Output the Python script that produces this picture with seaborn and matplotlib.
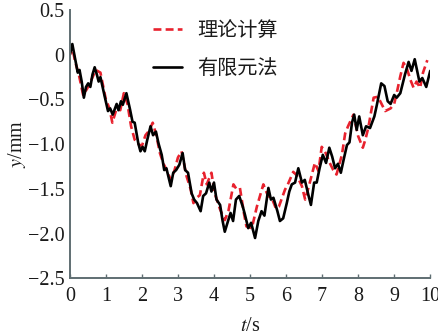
import matplotlib
matplotlib.use("Agg")
import matplotlib.pyplot as plt
import seaborn as sns
import pandas as pd

# Theoretical displacement curve (t in s, y in mm)
theory_t = [0.00, 0.07, 0.15, 0.25, 0.37, 0.45, 0.52, 0.60, 0.72, 0.85, 0.90, 1.00,
            1.10, 1.18, 1.30, 1.40, 1.50, 1.60, 1.70, 1.80, 1.90, 2.00, 2.10, 2.20,
            2.30, 2.40, 2.50, 2.60, 2.70, 2.80, 2.90, 3.00, 3.10, 3.24, 3.35, 3.43,
            3.52, 3.61, 3.72, 3.80, 3.93, 4.02, 4.17, 4.30, 4.40, 4.54, 4.62, 4.72,
            4.83, 4.90, 5.05, 5.19, 5.37, 5.50, 5.60, 5.72, 5.80, 5.97, 6.05, 6.20,
            6.30, 6.44, 6.53, 6.62, 6.80, 6.90, 6.99, 7.10, 7.20, 7.31, 7.40, 7.55,
            7.64, 7.72, 7.87, 8.00, 8.13, 8.20, 8.28, 8.43, 8.55, 8.65, 8.75, 8.90,
            9.00, 9.07, 9.17, 9.26, 9.35, 9.45, 9.54, 9.62, 9.72, 9.80, 9.92]
theory_y = [0.00, 0.08, -0.08, -0.22, -0.45, -0.40, -0.35, -0.28, -0.17, -0.20, -0.30, -0.50,
            -0.60, -0.76, -0.60, -0.62, -0.43, -0.55, -0.80, -0.95, -1.00, -1.02, -0.90, -0.85,
            -0.76, -0.90, -1.10, -1.22, -1.30, -1.40, -1.30, -1.15, -1.08, -1.36, -1.50, -1.66,
            -1.60, -1.57, -1.32, -1.45, -1.32, -1.55, -1.73, -1.85, -1.75, -1.45, -1.50, -1.49,
            -1.77, -1.92, -1.94, -1.70, -1.45, -1.58, -1.60, -1.72, -1.70, -1.51, -1.45, -1.31,
            -1.35, -1.47, -1.62, -1.49, -1.21, -1.30, -1.03, -1.10, -1.20, -1.29, -1.34, -1.12,
            -0.88, -0.80, -0.67, -0.91, -1.04, -0.95, -0.82, -0.48, -0.47, -0.55, -0.63, -0.60,
            -0.55, -0.43, -0.24, -0.09, -0.15, -0.28, -0.37, -0.30, -0.37, -0.20, -0.06]

# Finite element result
fem_t = [0.00, 0.07, 0.15, 0.22, 0.27, 0.33, 0.39, 0.45, 0.51, 0.57, 0.63, 0.69,
         0.75, 0.80, 0.85, 0.97, 1.06, 1.12, 1.19, 1.30, 1.35, 1.42, 1.47, 1.57,
         1.67, 1.74, 1.80, 1.90, 1.96, 2.02, 2.08, 2.15, 2.24, 2.31, 2.39, 2.46,
         2.55, 2.62, 2.68, 2.80, 2.87, 2.95, 3.04, 3.13, 3.20, 3.28, 3.38, 3.45,
         3.53, 3.63, 3.70, 3.78, 3.87, 3.93, 4.00, 4.07, 4.17, 4.24, 4.30, 4.39,
         4.46, 4.53, 4.61, 4.70, 4.80, 4.86, 4.95, 5.03, 5.14, 5.23, 5.32, 5.40,
         5.51, 5.58, 5.65, 5.76, 5.83, 5.92, 6.02, 6.09, 6.16, 6.25, 6.34, 6.44,
         6.52, 6.62, 6.69, 6.78, 6.85, 6.93, 7.02, 7.11, 7.20, 7.28, 7.36, 7.44,
         7.52, 7.60, 7.69, 7.76, 7.83, 7.89, 7.96, 8.03, 8.13, 8.22, 8.33, 8.45,
         8.52, 8.64, 8.73, 8.82, 8.90, 9.00, 9.07, 9.17, 9.30, 9.40, 9.48, 9.57,
         9.70, 9.78, 9.89, 10.00]
fem_y = [0.00, 0.12, -0.05, -0.20, -0.17, -0.30, -0.48, -0.36, -0.32, -0.36, -0.22, -0.14,
         -0.22, -0.30, -0.25, -0.47, -0.63, -0.60, -0.67, -0.55, -0.62, -0.52, -0.56, -0.43,
         -0.61, -0.75, -0.76, -0.99, -1.08, -1.03, -1.08, -0.95, -0.80, -0.90, -0.86, -0.99,
         -1.12, -1.29, -1.27, -1.47, -1.32, -1.29, -1.23, -1.10, -1.29, -1.32, -1.55, -1.62,
         -1.66, -1.75, -1.58, -1.55, -1.43, -1.53, -1.43, -1.62, -1.68, -1.86, -1.98, -1.86,
         -1.77, -1.86, -1.62, -1.58, -1.70, -1.79, -1.94, -1.88, -2.05, -1.86, -1.75, -1.80,
         -1.49, -1.62, -1.60, -1.75, -1.86, -1.83, -1.66, -1.53, -1.45, -1.43, -1.27, -1.43,
         -1.40, -1.57, -1.68, -1.43, -1.43, -1.27, -1.12, -1.21, -1.04, -1.14, -1.27, -1.22,
         -1.32, -1.17, -1.01, -0.98, -0.76, -0.67, -0.84, -0.69, -0.90, -0.80, -0.82, -0.69,
         -0.56, -0.32, -0.35, -0.52, -0.55, -0.45, -0.48, -0.43, -0.22, -0.08, -0.18, -0.05,
         -0.30, -0.26, -0.36, -0.18]

labels = ["理论计算", "有限元法"]
x_ticks = list(range(0, 11))
y_ticks = [0.5, 0, -0.5, -1.0, -1.5, -2.0, -2.5]
y_tick_labels = ["0.5", "0", "\u22120.5", "\u22121.0", "\u22121.5", "\u22122.0", "\u22122.5"]

df = pd.concat([
    pd.DataFrame({"t": theory_t, "y": theory_y, "method": labels[0]}),
    pd.DataFrame({"t": fem_t, "y": fem_y, "method": labels[1]}),
], ignore_index=True)

sns.set_style("ticks")
plt.rcParams["font.family"] = ["Liberation Serif", "Noto Sans CJK SC"]
plt.rcParams["mathtext.fontset"] = "stix"

fig = plt.figure(figsize=(4.39, 3.36), dpi=100)
ax = fig.add_axes([0.159, 0.172, 0.821, 0.798])

sns.lineplot(data=df, x="t", y="y", hue="method", style="method",
             palette={labels[0]: "#e8222e", labels[1]: "#000000"},
             dashes={labels[0]: (3, 1.6), labels[1]: ""},
             estimator=None, sort=False, linewidth=1.9, ax=ax)

ax.set_xlim(0, 10)
ax.set_ylim(-2.5, 0.5)
ax.set_xticks(x_ticks)
ax.set_xticklabels([str(v) for v in x_ticks])
ax.set_yticks(y_ticks)
ax.set_yticklabels(y_tick_labels)

spine_color = "#5f6e72"
for side in ("top", "right"):
    ax.spines[side].set_visible(False)
for side in ("left", "bottom"):
    ax.spines[side].set_color(spine_color)
    ax.spines[side].set_linewidth(1.4)

ax.tick_params(axis="x", direction="in", length=3, width=1.0, color=spine_color,
               labelsize=14.5, pad=6, labelcolor="#1a1a1a")
ax.tick_params(axis="y", length=0, labelsize=14.5, pad=4, labelcolor="#1a1a1a")

ax.set_xlabel("$t$/s", fontsize=14.5, color="#1a1a1a", labelpad=8)
ax.set_ylabel("$y$/mm", fontsize=14.5, color="#1a1a1a", labelpad=0)

handles, names = ax.get_legend_handles_labels()
pairs = [(h, n) for h, n in zip(handles, names) if n in labels]
leg = ax.legend([p[0] for p in pairs], [p[1] for p in pairs],
                loc="upper left", bbox_to_anchor=(0.18, 1.03), frameon=False,
                handlelength=1.45, handletextpad=0.75, labelspacing=0.85,
                prop={"family": ["Noto Sans CJK SC"], "size": 14.5})
for txt in leg.get_texts():
    txt.set_color("#1a1a1a")

fig.savefig("out.png", dpi=100)
